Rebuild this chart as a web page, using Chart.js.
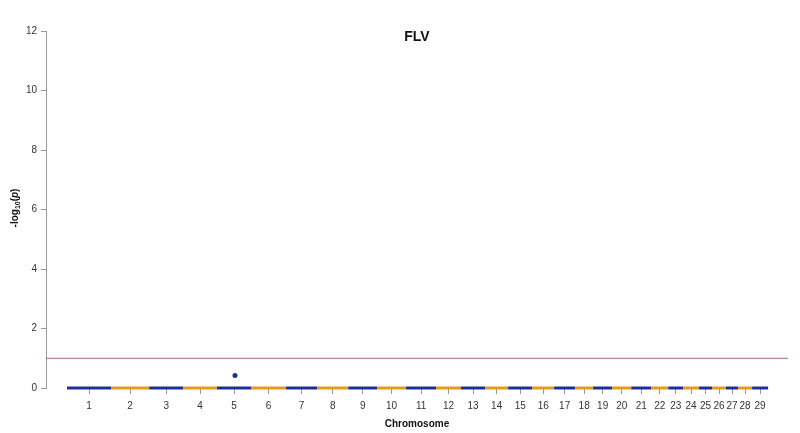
<!DOCTYPE html>
<html>
<head>
<meta charset="utf-8">
<script src="https://cdn.jsdelivr.net/npm/chart.js@4"></script>
<style>
  html, body { margin: 0; padding: 0; background: #fff; }
  #wrap { width: 800px; height: 433px; }
</style>
</head>
<body>
<div id="wrap"><canvas id="manhattan"></canvas></div>
<script>
// chromosomes and their lengths (Mb)
const chromosomes = ["1","2","3","4","5","6","7","8","9","10","11","12","13","14","15",
  "16","17","18","19","20","21","22","23","24","25","26","27","28","29"];
const chromLengths = [157,136,121,121,121,125,111,111,103,103,107,89,86,82,86,
  78,75,64,68,68,71,61,53,57,46,50,43,50,57];

// almost every SNP sits at -log10(p) ~ 0, only one stands out
const baselineLogP = 0;
const hitChrom = [5];
const hitPos = [64];
const hitLogP = [0.42];

const threshold = 1;
const yTicks = [0, 2, 4, 6, 8, 10, 12];

const colors = ["#1f2f9a", "#e39a1c"];

// cumulative starts
const starts = [];
let acc = 0;
chromLengths.forEach((len) => { starts.push(acc); acc += len; });
const total = acc;
const centers = starts.map((s, i) => s + chromLengths[i] / 2);

const baseline = starts.map((s) => ({ x: s, y: baselineLogP }));
baseline.push({ x: total, y: baselineLogP });

const hits = hitChrom.map((c, i) => ({ x: starts[c - 1] + hitPos[i], y: hitLogP[i] }));

// title + y label with subscript
const textPlugin = {
  id: "texts",
  afterDraw(chart) {
    const { ctx, chartArea } = chart;
    ctx.save();
    ctx.fillStyle = "#111";
    ctx.font = "bold 14px 'Liberation Sans', Arial, sans-serif";
    ctx.textAlign = "center";
    ctx.textBaseline = "middle";
    ctx.fillText("FLV", (chartArea.left + chartArea.right) / 2, 37);

    ctx.translate(15, 208);
    ctx.rotate(-Math.PI / 2);
    const big = "bold 10px 'Liberation Sans', Arial, sans-serif";
    const small = "bold 7px 'Liberation Sans', Arial, sans-serif";
    const ital = "bold italic 10px 'Liberation Sans', Arial, sans-serif";
    const parts = [["-log", big, 0], ["10", small, 3], ["(", big, 0], ["p", ital, 0], [")", big, 0]];
    let w = 0;
    parts.forEach((p) => { ctx.font = p[1]; w += ctx.measureText(p[0]).width; });
    let x = -w / 2;
    ctx.textAlign = "left";
    parts.forEach((p) => {
      ctx.font = p[1];
      ctx.fillText(p[0], x, p[2]);
      x += ctx.measureText(p[0]).width;
    });
    ctx.restore();
  }
};

new Chart(document.getElementById("manhattan"), {
  type: "scatter",
  data: {
    datasets: [
      {
        label: "threshold",
        data: [{ x: -75, y: threshold }, { x: 2571, y: threshold }],
        showLine: true,
        borderColor: "#b85a80",
        borderWidth: 1,
        pointRadius: 0
      },
      {
        label: "SNPs",
        data: baseline,
        showLine: true,
        borderWidth: 3,
        pointRadius: 0,
        borderColor: colors[0],
        segment: {
          borderColor: (c) => colors[c.p0DataIndex % 2]
        }
      },
      {
        label: "hit",
        data: hits,
        pointRadius: 2.5,
        pointBackgroundColor: colors[0],
        pointBorderColor: colors[0],
        pointBorderWidth: 0
      }
    ]
  },
  options: {
    responsive: true,
    maintainAspectRatio: false,
    animation: false,
    clip: false,
    layout: { padding: { left: 0, right: 12, top: 31, bottom: 0 } },
    plugins: {
      legend: { display: false },
      tooltip: { enabled: false }
    },
    scales: {
      x: {
        type: "linear",
        min: -75,
        max: 2571,
        border: { display: false },
        grid: { drawOnChartArea: false, drawTicks: true, tickLength: 6, color: "#999" },
        afterBuildTicks: (scale) => { scale.ticks = centers.map((v) => ({ value: v })); },
        afterFit: (scale) => { scale.height = 45; },
        ticks: {
          autoSkip: false,
          maxRotation: 0,
          padding: 6,
          color: "#333",
          font: { family: "'Liberation Sans', Arial, sans-serif", size: 10 },
          callback: (v, i) => chromosomes[i]
        },
        title: {
          display: true,
          text: "Chromosome",
          color: "#111",
          padding: { top: 0, bottom: 3 },
          font: { family: "'Liberation Sans', Arial, sans-serif", size: 10, weight: "bold" }
        }
      },
      y: {
        min: 0,
        max: 12,
        border: { display: true, color: "#999", width: 1 },
        grid: { drawOnChartArea: false, drawTicks: true, tickLength: 5, color: "#999" },
        afterBuildTicks: (scale) => { scale.ticks = yTicks.map((v) => ({ value: v })); },
        afterFit: (scale) => { scale.width = 46; },
        ticks: {
          padding: 4,
          color: "#333",
          font: { family: "'Liberation Sans', Arial, sans-serif", size: 10 }
        }
      }
    }
  },
  plugins: [textPlugin]
});
</script>
</body>
</html>
